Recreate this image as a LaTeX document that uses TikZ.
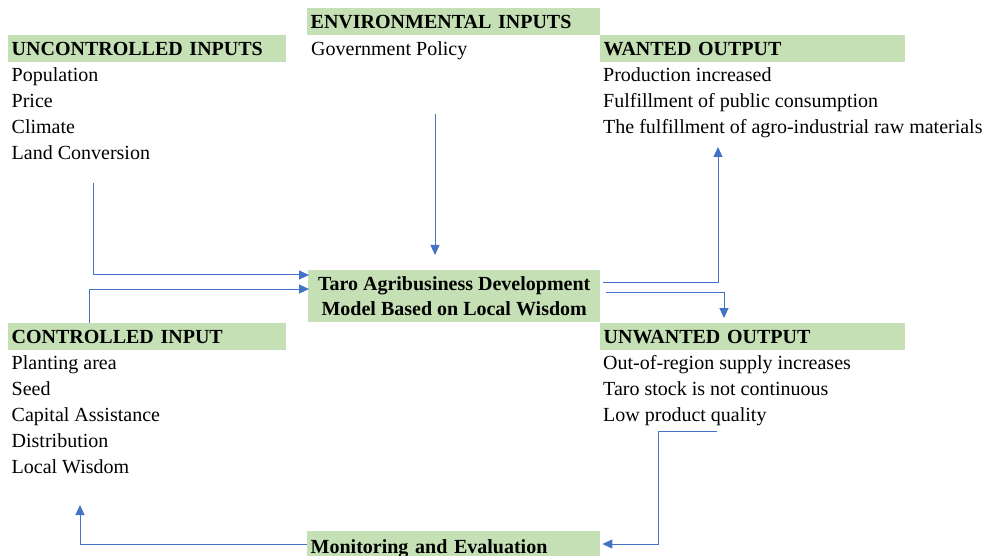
\documentclass[tikz,border=0pt]{standalone}
\usepackage{fontspec}
\setmainfont{Liberation Serif}
\usetikzlibrary{arrows.meta,calc}
\definecolor{hdrgreen}{RGB}{197,224,180}
\definecolor{flowblue}{RGB}{68,114,196}

\begin{document}
\begin{tikzpicture}[x=1pt,y=-1pt,
  txt/.style={font=\fontsize{20}{25}\selectfont},
  hdr/.style={fill=hdrgreen, anchor=north west, inner xsep=3.5pt, inner ysep=0pt,
              text height=20pt, text depth=7pt, align=left,
              font=\fontsize{20}{25}\selectfont\bfseries},
  item/.style={txt, anchor=base west, inner sep=0pt},
  core/.style={fill=hdrgreen, anchor=north west, minimum width=292pt, minimum height=52pt,
               inner sep=0pt, align=center, font=\fontsize{20}{25}\selectfont\bfseries},
  flow/.style={draw=flowblue, line width=1pt, -{Triangle[length=10pt,width=9pt]}}]

\clip (0,0) rectangle (991,556);

% environmental inputs
\node[hdr, text width=286pt] (envh) at (307,8) {ENVIRONMENTAL INPUTS};
\node[item] (env1) at (311,56) {Government Policy};

% uncontrolled inputs
\node[hdr, text width=271pt] (unch) at (8,35) {UNCONTROLLED INPUTS};
\node[item] (unc1) at (11.5,82)  {Population};
\node[item] (unc2) at (11.5,108) {Price};
\node[item] (unc3) at (11.5,134) {Climate};
\node[item] (unc4) at (11.5,160) {Land Conversion};

% wanted output
\node[hdr, text width=298pt] (wanth) at (600,35) {WANTED OUTPUT};
\node[item] (want1) at (603,82)  {Production increased};
\node[item] (want2) at (603,108) {Fulfillment of public consumption};
\node[item] (want3) at (603,134) {The fulfillment of agro-industrial raw materials};

% central model
\node[core] (taro) at (308,270) {Taro Agribusiness Development\\Model Based on Local Wisdom};

% controlled input
\node[hdr, text width=271pt] (ctrlh) at (8,323) {CONTROLLED INPUT};
\node[item] (ctrl1) at (11.5,369) {Planting area};
\node[item] (ctrl2) at (11.5,395) {Seed};
\node[item] (ctrl3) at (11.5,421) {Capital Assistance};
\node[item] (ctrl4) at (11.5,447) {Distribution};
\node[item] (ctrl5) at (11.5,473) {Local Wisdom};

% unwanted output
\node[hdr, text width=298pt] (unwh) at (600,323) {UNWANTED OUTPUT};
\node[item] (unw1) at (603,369) {Out-of-region supply increases};
\node[item] (unw2) at (603,395) {Taro stock is not continuous};
\node[item] (unw3) at (603,421) {Low product quality};

% monitoring and evaluation
\node[hdr, text width=286pt, text height=22pt, text depth=8pt] (moni) at (307,531) {Monitoring and Evaluation};

% free ends of the connectors
\coordinate (govS)  at (435,114);
\coordinate (govT)  at (435,255);
\coordinate (uncS)  at (93,183);
\coordinate (wantT) at (718,147);
\coordinate (unwS)  at (717,431);
\coordinate (ctrlT) at (80,505);

% connectors
\draw[flow] (govS) -- (govT);
\draw[flow] (uncS) |- ($(taro.north west)+(1,5)$);
\draw[flow] ($(ctrlh.north west)+(81,0)$) |- ($(taro.north west)+(1,19)$);
\draw[flow] ($(taro.north east)+(3,13)$) -| (wantT);
\draw[flow] ($(taro.north east)+(6,22)$) -| ($(unwh.north west)+(124,-5)$);
\draw[flow] (unwS) -- ++(-59,0) |- ($(moni.north east)+(2,13)$);
\draw[flow] ($(moni.north west)+(0,13)$) -| (ctrlT);
\end{tikzpicture}
\end{document}
